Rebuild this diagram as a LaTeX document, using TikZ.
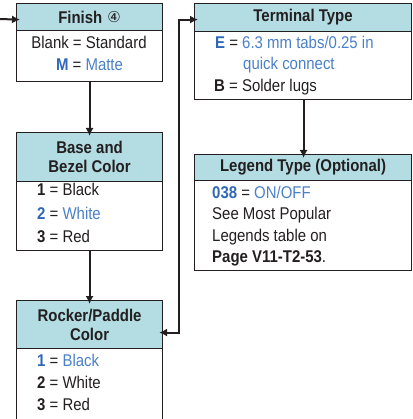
\documentclass[tikz,border=0pt]{standalone}
\usepackage{fontspec}
\setmainfont{Liberation Sans}[FakeStretch=0.88]
\newfontfamily\dejavu{DejaVu Sans}
\usetikzlibrary{arrows.meta}
\definecolor{hdr}{HTML}{B3DDE3}
\definecolor{txt}{HTML}{231F20}
\definecolor{blu}{HTML}{4A80C8}
\definecolor{bblu}{HTML}{2E67B8}
\newcommand\fs{\fontsize{17}{21.5}\selectfont}
\newcommand\hfs{\fontsize{17}{19}\selectfont\bfseries}
\newcommand\eq{{\color{txt}=}}
\begin{document}
\begin{tikzpicture}[x=1pt,y=1pt,
  frame/.style={draw=txt, line width=1.1pt, inner sep=0pt, anchor=north west, minimum width=146pt},
  head/.style={fill=hdr, draw=txt, line width=1.1pt, inner sep=0pt, anchor=north west,
               font=\hfs, text=txt, align=center, minimum width=146pt},
  conn/.style={draw=txt, line width=2pt, -{Latex[length=8pt,width=8pt]}, shorten >=-4pt},
  ln/.style={anchor=base west, inner sep=0pt, text=txt, font=\fs},
  lnc/.style={anchor=base, inner sep=0pt, text=txt, font=\fs},
]
\useasboundingbox (0,0) rectangle (412,-419);

% ---- Finish
\node[frame, minimum height=78pt] (finish) at (16,-3) {};
\node[head, minimum height=27pt] (finishH) at (16,-3)
  {Finish\hspace{5pt}\raisebox{1pt}{\mdseries\dejavu\fontsize{15}{15}\selectfont ④}};
\node[lnc] (f1) at (89,-49) {Blank \eq{} Standard};
\node[lnc, text=blu] (f2) at (89.5,-71) {{\bfseries\color{bblu}M} \eq{} Matte};

% ---- Base and Bezel Color
\node[frame, minimum height=118pt] (base) at (16,-132) {};
\node[head, minimum height=49pt] (baseH) at (16,-132) {Base and\\Bezel Color};
\node[ln] (b1) at (37,-196) {\textbf{1} = Black};
\node[ln, text=blu] (b2) at (37,-219) {{\bfseries\color{bblu}2} \eq{} White};
\node[ln] (b3) at (37,-242) {\textbf{3} = Red};

% ---- Rocker/Paddle Color
\node[frame, minimum height=118.5pt] (rocker) at (16,-300) {};
\node[head, minimum height=48pt] (rockerH) at (16,-300) {Rocker/Paddle\\Color};
\node[ln, text=blu] (r1) at (37,-366) {{\bfseries\color{bblu}1} \eq{} Black};
\node[ln] (r2) at (37,-388) {\textbf{2} = White};
\node[ln] (r3) at (37,-410) {\textbf{3} = Red};

% ---- Terminal Type
\node[frame, minimum width=217pt, minimum height=96pt] (term) at (194,-3) {};
\node[head, minimum width=217pt, minimum height=28pt] (termH) at (194,-3) {Terminal Type};
\node[ln, text=blu] (t1) at (215,-49) {{\bfseries\color{bblu}E} \eq{} 6.3 mm tabs/0.25 in};
\node[ln, text=blu] (t2) at (243,-70) {quick connect};
\node[ln] (t3) at (214,-92) {\textbf{B} = Solder lugs};

% ---- Legend Type
\node[frame, minimum width=217pt, minimum height=116pt] (legend) at (194,-154) {};
\node[head, minimum width=217pt, minimum height=26pt] (legendH) at (194,-154) {Legend Type (Optional)};
\node[ln, text=blu] (l1) at (212,-199) {{\bfseries\color{bblu}038} \eq{} ON/OFF};
\node[ln] (l2) at (212,-219) {See Most Popular};
\node[ln] (l3) at (212,-241) {Legends table on};
\node[ln] (l4) at (212,-262) {\textbf{Page V11-T2-53}.};

% ---- connectors
\coordinate (fstart) at (0,-19);
\draw[conn] (fstart) -- ([yshift=-2.5pt]finishH.west);
\draw[conn] (finish.south) -- (baseH.north);
\draw[conn] (base.south) -- (rockerH.north);
\draw[conn, {Latex[length=8pt,width=8pt]}-{Latex[length=8pt,width=8pt]}, shorten <=-4pt]
  ([yshift=-8pt]rockerH.east) -- ++(15.5,0) |- ([yshift=-2pt]termH.west);
\draw[conn] ([xshift=0.5pt]term.south) -- ([xshift=0.5pt]legendH.north);
\end{tikzpicture}
\end{document}
